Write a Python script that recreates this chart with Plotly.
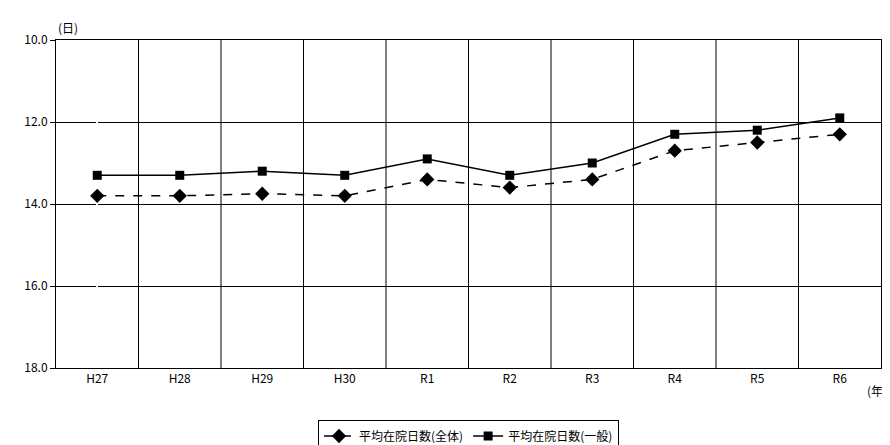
import plotly.graph_objects as go

years = ["H27", "H28", "H29", "H30", "R1", "R2", "R3", "R4", "R5", "R6"]
zentai = [13.8, 13.8, 13.75, 13.8, 13.4, 13.6, 13.4, 12.7, 12.5, 12.3]
ippan = [13.3, 13.3, 13.2, 13.3, 12.9, 13.3, 13.0, 12.3, 12.2, 11.9]
y_ticks = [10.0, 12.0, 14.0, 16.0, 18.0]

x = list(range(len(years)))
font = "Noto Sans CJK JP"

fig = go.Figure()
fig.add_trace(go.Scatter(
    x=x, y=zentai, name="平均在院日数(全体)", mode="lines+markers",
    line=dict(color="black", width=1.5, dash="dash"),
    marker=dict(symbol="diamond", size=11, color="black"),
))
fig.add_trace(go.Scatter(
    x=x, y=ippan, name="平均在院日数(一般)", mode="lines+markers",
    line=dict(color="black", width=1.5),
    marker=dict(symbol="square", size=9, color="black"),
))

# vertical grid lines between categories
for i in range(1, len(years)):
    fig.add_shape(type="line", xref="x", yref="paper", x0=i - 0.5, x1=i - 0.5,
                  y0=0, y1=1, line=dict(color="black", width=1), layer="below")

fig.update_xaxes(
    range=[-0.5, len(years) - 0.5], tickvals=x, ticktext=years,
    showgrid=False, showline=True, linecolor="black", mirror=True,
    ticks="", tickfont=dict(size=12, color="black"), automargin=False,
)
fig.update_yaxes(
    range=[18.0, 10.0], tickvals=y_ticks, ticktext=[f"{v:.1f}" for v in y_ticks],
    showgrid=True, gridcolor="black", gridwidth=1,
    showline=True, linecolor="black", mirror=True,
    ticks="outside", ticklen=5, tickcolor="black",
    tickfont=dict(size=12, color="black"), zeroline=False, automargin=False,
)

fig.add_annotation(text="(日)", xref="paper", yref="paper", x=0.0, y=1.0,
                   xanchor="left", yanchor="bottom", showarrow=False,
                   font=dict(size=12, color="black"), yshift=2)
fig.add_annotation(text="(年)", xref="paper", yref="paper", x=1.0, y=0,
                   xanchor="right", yanchor="top", showarrow=False,
                   font=dict(size=12, color="black"), xshift=8, yshift=-12)

fig.update_layout(
    width=890, height=445,
    margin=dict(l=48, r=17, t=32, b=85, autoexpand=False),
    plot_bgcolor="white", paper_bgcolor="white",
    font=dict(family=font, color="black", size=12),
    showlegend=True,
    legend=dict(orientation="h", x=0.5, xanchor="center", y=-0.16, yanchor="top",
                bordercolor="black", borderwidth=1, font=dict(size=12)),
)

fig.write_html("out.html")
